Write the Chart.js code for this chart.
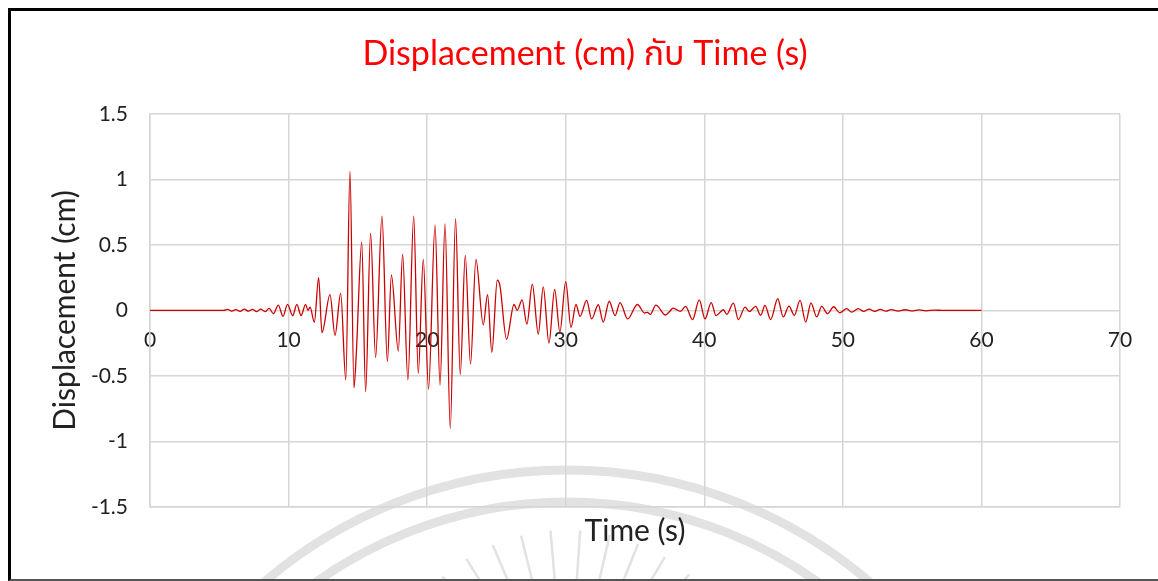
<!DOCTYPE html>
<html>
<head>
<meta charset="utf-8">
<script src="https://cdn.jsdelivr.net/npm/chart.js@4/dist/chart.umd.min.js"></script>
<style>
  html, body { margin: 0; padding: 0; background: #fff; }
  #wrap { position: relative; width: 1158px; height: 581px; }
  #frame { position: absolute; left: 8px; top: 8px; right: -4px; bottom: 0; border-left: 3px solid #000; border-top: 3px solid #000; border-bottom: 2px solid #555; pointer-events: none; z-index: 2; }
  canvas { position: absolute; left: 0; top: 0; }
</style>
</head>
<body>
<div id="wrap">
  <canvas id="c" width="1158" height="581"></canvas>
  <div id="frame"></div>
</div>
<script>
// ---- Data ----
const chartTitle = 'Displacement (cm) กับ Time (s)';
const xTitle = 'Time (s)';
const yTitle = 'Displacement (cm)';

const time = [
  0, 5.3, 5.6, 5.9, 6.2, 6.5, 6.8, 7.1, 7.4, 7.7, 8.0, 8.3,
  8.6, 8.9, 9.26, 9.6, 9.92, 10.3, 10.6, 10.9, 11.23, 11.4, 11.55, 11.86,
  12.17, 12.41, 12.99, 13.35, 13.76, 14.13, 14.43, 14.72, 14.9, 15.28, 15.56, 15.92,
  16.28, 16.74, 17.13, 17.42, 17.92, 18.23, 18.61, 19.03, 19.36, 19.72, 20.1, 20.57,
  20.93, 21.29, 21.67, 22.05, 22.39, 22.75, 23.13, 23.52, 24.05, 24.36, 24.67, 25.06,
  25.25, 25.73, 26.27, 26.5, 26.85, 27.2, 27.59, 28.02, 28.38, 28.79, 29.2, 29.58,
  30.0, 30.38, 30.74, 31.03, 31.51, 31.87, 32.35, 32.71, 33.14, 33.56, 33.92, 34.47,
  35.17, 35.7, 35.9, 36.1, 36.51, 37.2, 37.5, 37.75, 38.28, 38.65, 39.15, 39.64,
  40.05, 40.5, 40.85, 41.38, 41.62, 42.1, 42.46, 42.94, 43.25, 43.71, 44.07, 44.38,
  44.79, 45.3, 45.7, 46.11, 46.5, 46.91, 47.32, 47.7, 48.11, 48.47, 48.9, 49.33,
  49.77, 50.28, 50.63, 51.12, 51.5, 51.9, 52.3, 52.7, 53.1, 53.5, 54.0, 54.5,
  55.0, 55.5, 56.0, 56.6, 57.2, 60
];
const displacement = [
  0, 0, 0.008, -0.005, 0.006, -0.008, 0.01, -0.006, 0.008, -0.01, 0.01, -0.01,
  0.015, -0.025, 0.04, -0.046, 0.046, -0.04, 0.046, -0.04, 0.046, 0.0, 0.025, -0.09,
  0.25, -0.17, 0.12, -0.19, 0.13, -0.53, 1.063, -0.59, -0.30, 0.52, -0.62, 0.59,
  -0.36, 0.72, -0.39, 0.27, -0.31, 0.43, -0.53, 0.72, -0.48, 0.39, -0.60, 0.65,
  -0.57, 0.66, -0.90, 0.70, -0.49, 0.42, -0.41, 0.39, -0.11, 0.12, -0.32, 0.23,
  0.19, -0.22, 0.045, 0.0, 0.08, -0.105, 0.20, -0.18, 0.18, -0.25, 0.16, -0.165,
  0.22, -0.13, 0.045, -0.045, 0.076, -0.065, 0.043, -0.09, 0.07, -0.04, 0.06, -0.065,
  0.045, -0.02, -0.015, -0.03, 0.04, -0.035, -0.008, 0.018, -0.008, 0.03, -0.07, 0.08,
  -0.065, 0.06, -0.04, 0.005, -0.03, 0.056, -0.07, 0.025, -0.008, 0.03, -0.038, 0.038,
  -0.07, 0.089, -0.05, 0.033, -0.038, 0.076, -0.089, 0.058, -0.05, 0.03, -0.025, 0.028,
  -0.018, 0.013, -0.013, 0.013, -0.008, 0.01, -0.008, 0.008, -0.006, 0.006, -0.005, 0.005,
  -0.004, 0.004, -0.003, 0.002, 0, 0
];
const xTicks = [0, 10, 20, 30, 40, 50, 60, 70];
const yTicks = [-1.5, -1, -0.5, 0, 0.5, 1, 1.5];

const points = time.map((t, i) => ({ x: t, y: displacement[i] }));

const FONT = "Lato, 'Noto Sans Thai', 'Noto Sans', 'DejaVu Sans', sans-serif";
const gridColor = '#d6d6d6';

// light background watermark (decoration only)
const watermark = {
  id: 'watermark',
  beforeDraw(chart) {
    const ctx = chart.ctx;
    ctx.save();
    ctx.strokeStyle = 'rgba(214,214,214,0.7)';
    ctx.lineWidth = 9;
    ctx.beginPath();
    ctx.arc(567, 935, 465, Math.PI, 2 * Math.PI);
    ctx.stroke();
    ctx.beginPath();
    ctx.arc(567, 935, 433, Math.PI, 2 * Math.PI);
    ctx.stroke();
    ctx.lineWidth = 2.5;
    for (let a = -50; a <= 50; a += 9) {
      const r = a * Math.PI / 180;
      const cx = 567, cy = 720;
      ctx.beginPath();
      ctx.moveTo(cx + Math.sin(r) * 140, cy - Math.cos(r) * 140);
      ctx.lineTo(cx + Math.sin(r) * 190, cy - Math.cos(r) * 190);
      ctx.stroke();
    }
    ctx.restore();
  }
};

new Chart(document.getElementById('c'), {
  type: 'scatter',
  data: {
    datasets: [{
      data: points,
      showLine: true,
      borderColor: '#cc0000',
      borderWidth: 1.3,
      pointRadius: 0,
      cubicInterpolationMode: 'monotone',
      xAxisID: 'x',
      yAxisID: 'y'
    }]
  },
  plugins: [watermark],
  options: {
    responsive: false,
    animation: false,
    layout: { padding: { left: 12, right: 0, top: 0, bottom: 0 } },
    plugins: {
      legend: { display: false },
      tooltip: { enabled: false },
      title: {
        display: true,
        text: chartTitle,
        color: '#ff0000',
        font: { family: FONT, size: 34, weight: 'normal' },
        padding: { top: 34, bottom: 39 }
      }
    },
    scales: {
      x: {
        type: 'linear',
        position: 'bottom',
        min: 0, max: 70,
        afterBuildTicks: (s) => { s.ticks = xTicks.map(v => ({ value: v })); },
        ticks: { display: false },
        grid: { color: gridColor, lineWidth: 1.5, drawTicks: false },
        border: { color: gridColor, width: 1.5 },
        title: { display: true, text: xTitle, color: '#222', font: { family: FONT, size: 30 }, padding: { top: 32, bottom: 32 } },
        afterFit: (s) => { s.height = 74; }
      },
      x2: {
        type: 'linear',
        position: { y: 0 },
        min: 0, max: 70,
        afterBuildTicks: (s) => { s.ticks = xTicks.map(v => ({ value: v })); },
        ticks: { color: '#222', font: { family: FONT, size: 21 }, padding: 17, maxRotation: 0, callback: (v) => String(v) },
        grid: { display: false, drawTicks: false },
        border: { display: false }
      },
      y: {
        type: 'linear',
        position: 'left',
        min: -1.5, max: 1.5,
        afterBuildTicks: (s) => { s.ticks = yTicks.map(v => ({ value: v })); },
        ticks: { color: '#222', font: { family: FONT, size: 21 }, padding: 22, callback: (v) => String(v) },
        grid: { color: gridColor, lineWidth: 1.5, drawTicks: false },
        border: { color: gridColor, width: 1.5 },
        title: { display: true, text: yTitle, color: '#222', font: { family: FONT, size: 30 }, padding: { top: 35, bottom: 35 } },
        afterFit: (s) => { s.width = 138; }
      },
      yRightSpace: {
        type: 'linear',
        position: 'right',
        min: -1.5, max: 1.5,
        ticks: { display: false },
        grid: { display: false, drawTicks: false },
        border: { display: false },
        afterFit: (s) => { s.width = 38; }
      }
    }
  }
});
</script>
</body>
</html>
